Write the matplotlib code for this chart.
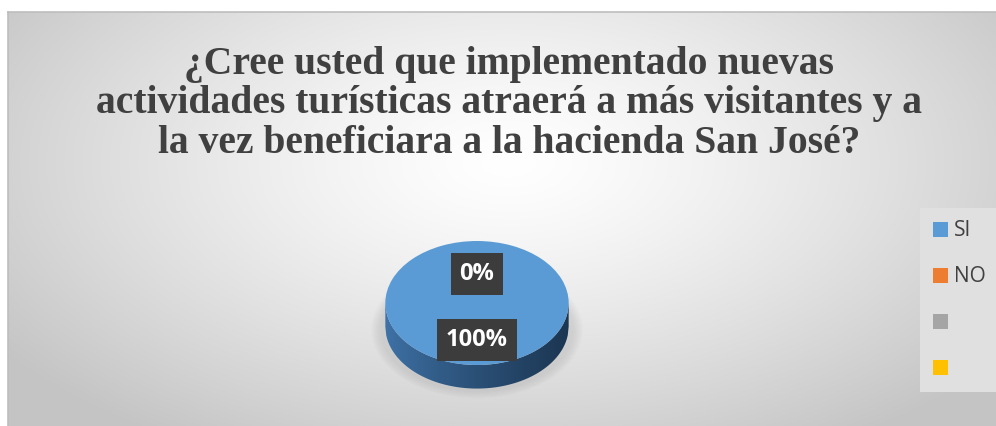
import numpy as np
import matplotlib
matplotlib.use('Agg')
import matplotlib.pyplot as plt
from matplotlib.patches import Ellipse, Polygon

categorias = ['SI', 'NO', '', '']
valores = [100, 0, 0, 0]
colores = ['#5B9BD5', '#ED7D31', '#A5A5A5', '#FFC000']
titulo = ('¿Cree usted que implementado nuevas\n'
          'actividades turísticas atraerá a más visitantes y a\n'
          'la vez beneficiara a la hacienda San José?')

W, H = 996, 426
fig = plt.figure(figsize=(W / 100, H / 100), dpi=100)
fig.patch.set_facecolor('white')

# fondo con degradado radial
bg = fig.add_axes([8 / W, 0, 988 / W, 414 / H])
yy, xx = np.mgrid[0:414, 0:988]
r = np.sqrt(((xx - 500) / 620.0) ** 2 + ((yy - 150) / 330.0) ** 2)
g = 1.0 - 0.23 * np.clip(r, 0, 1.0) ** 1.3
bg.imshow(np.dstack([g, g, g]), aspect='auto', extent=(0, 988, 414, 0))
bg.set_xlim(0, 988)
bg.set_ylim(414, 0)
bg.set_xticks([])
bg.set_yticks([])
for s in ['right', 'bottom']:
    bg.spines[s].set_visible(False)
for s in ['top', 'left']:
    bg.spines[s].set_color('#bdbdbd')
    bg.spines[s].set_linewidth(1.2)

fig.text(0.511, 1 - 104 / H, titulo, ha='center', va='center',
         multialignment='center', family='Liberation Serif',
         fontweight='bold', fontsize=28.5, color='#404040', linespacing=1.1)

# pastel 3D
cx, cy = 477, 303
ax = fig.add_axes([(cx - 110) / W, (H - cy - 1.6 * 62) / H, 220 / W, 2.8 * 62 / H])
depth = 0.38

# sombra suave
for k in range(8):
    ax.add_patch(Ellipse((0, -depth - 0.05), 2.1 + 0.03 * k, 2.0 + 0.03 * k,
                         color='#808080', alpha=0.025, lw=0))

# lado del pastel con degradado
sx = np.linspace(-1, 1, 200)
side = np.concatenate([
    np.column_stack([sx, -np.sqrt(np.clip(1 - sx ** 2, 0, 1))]),
    np.column_stack([sx[::-1], -depth - np.sqrt(np.clip(1 - sx[::-1] ** 2, 0, 1))]),
])
clip = Polygon(side, closed=True, facecolor='none', edgecolor='none')
ax.add_patch(clip)
t = np.linspace(0, 1, 256)
left = np.array([0x3f, 0x73, 0xa8]) / 255
right = np.array([0x1c, 0x36, 0x52]) / 255
shade = (1 - t[:, None] ** 0.8) * left + t[:, None] ** 0.8 * right
im = ax.imshow(shade[None, :, :], extent=(-1, 1, -1 - depth, 0), aspect='auto', zorder=1)
im.set_clip_path(clip)

wedges, _, autotexts = ax.pie(valores, colors=colores, startangle=90,
                              counterclock=False, autopct='%1.0f%%',
                              pctdistance=0.53,
                              wedgeprops=dict(linewidth=0, zorder=2),
                              textprops=dict(color='white', fontweight='bold',
                                             family='Open Sans', fontsize=17))
vistos = set()
for a in autotexts:
    a.set_zorder(5)
    if a.get_text() in vistos:
        a.set_visible(False)
        continue
    vistos.add(a.get_text())
    x, y = a.get_position()
    a.set_position((x, y - 0.06))
    a.set_bbox(dict(boxstyle='square,pad=0.38', facecolor='#3c3c3c', edgecolor='none'))
ax.set_aspect('auto')
ax.set_xlim(-1.2, 1.2)
ax.set_ylim(-1.6, 1.2)
ax.axis('off')

leg = fig.legend(wedges, categorias, loc='upper left',
                 bbox_to_anchor=(920 / W, 1 - 208 / H), frameon=True,
                 facecolor='#e0e0e0', edgecolor='none', framealpha=1,
                 fancybox=False, labelspacing=1.2,
                 handlelength=0.72, handleheight=0.72, handletextpad=0.3,
                 borderpad=0.6, borderaxespad=0,
                 prop=dict(family='Open Sans', size=15))
for txt in leg.get_texts():
    txt.set_color('#404040')

fig.savefig('out.png', dpi=100)
